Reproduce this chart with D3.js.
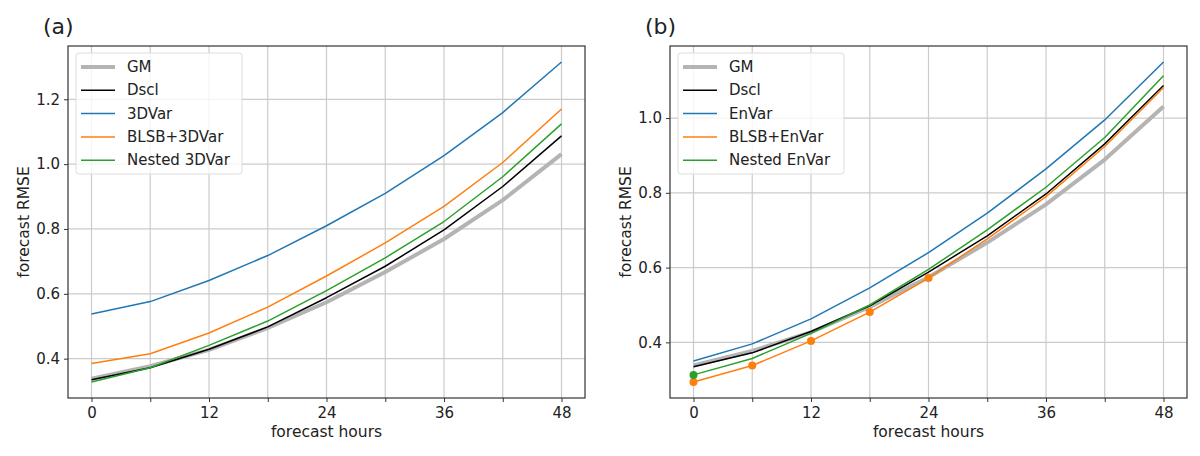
<!DOCTYPE html>
<html>
<head>
<meta charset="utf-8">
<script src="https://cdn.jsdelivr.net/npm/d3@7"></script>
<style>
  body { margin: 0; background: #fff; }
  text { font-family: 'DejaVu Sans', sans-serif; fill: #222; }
</style>
</head>
<body>
<svg id="chart" width="1200" height="456"></svg>
<script>
'use strict';

var hours = [0, 6, 12, 18, 24, 30, 36, 42, 48];
var xTickLabels = ['0', '', '12', '', '24', '', '36', '', '48'];

var gm = [0.338, 0.377, 0.427, 0.495, 0.574, 0.667, 0.769, 0.889, 1.031];
var dscl = [0.335, 0.372, 0.429, 0.498, 0.588, 0.685, 0.797, 0.931, 1.087];

// panel (a)
var var3d = [0.538, 0.576, 0.641, 0.718, 0.810, 0.910, 1.026, 1.159, 1.315];
var blsb3d = [0.385, 0.415, 0.479, 0.559, 0.655, 0.757, 0.870, 1.005, 1.170];
var nested3d = [0.328, 0.372, 0.441, 0.516, 0.610, 0.711, 0.823, 0.961, 1.124];

// panel (b)
var envar = [0.350, 0.396, 0.463, 0.546, 0.640, 0.746, 0.864, 0.995, 1.150];
var blsbEn = [0.294, 0.338, 0.404, 0.481, 0.572, 0.677, 0.790, 0.924, 1.082];
var nestedEn = [0.313, 0.357, 0.424, 0.500, 0.595, 0.701, 0.815, 0.948, 1.113];

// indexes of the dots drawn in (b)
var blsbEnDots = [0, 1, 2, 3, 4];
var nestedEnDots = [0];

var aTicks = [0.4, 0.6, 0.8, 1.0, 1.2];
var bTicks = [0.4, 0.6, 0.8, 1.0];

var svg = d3.select('#chart');

function drawPanel(opt) {
  var w = 517, h = 352;
  var g = svg.append('g').attr('transform', 'translate(' + opt.left + ',' + opt.top + ')');

  var all = [];
  opt.series.forEach(function(s) { all = all.concat(s.values); });
  var lo = d3.min(all), hi = d3.max(all), pad = (hi - lo) * 0.05;

  var x = d3.scaleLinear().domain([-2.4, 50.4]).range([0, w]);
  var y = d3.scaleLinear().domain([lo - pad, hi + pad]).range([h, 0]);

  // grid
  g.append('g').selectAll('line').data(hours).enter().append('line')
    .attr('x1', function(d) { return x(d); }).attr('x2', function(d) { return x(d); })
    .attr('y1', 0).attr('y2', h)
    .attr('stroke', '#cbcbcb').attr('stroke-width', 1.2);
  g.append('g').selectAll('line').data(opt.yTicks).enter().append('line')
    .attr('y1', function(d) { return y(d); }).attr('y2', function(d) { return y(d); })
    .attr('x1', 0).attr('x2', w)
    .attr('stroke', '#cbcbcb').attr('stroke-width', 1.2);

  var line = d3.line()
    .x(function(d, i) { return x(hours[i]); })
    .y(function(d) { return y(d); });

  opt.series.forEach(function(s) {
    g.append('path').datum(s.values)
      .attr('d', line)
      .attr('fill', 'none')
      .attr('stroke', s.color)
      .attr('stroke-width', s.width)
      .attr('stroke-linejoin', 'round');
    if (s.dots) {
      g.append('g').selectAll('circle').data(s.dots).enter().append('circle')
        .attr('cx', function(i) { return x(hours[i]); })
        .attr('cy', function(i) { return y(s.values[i]); })
        .attr('r', 4)
        .attr('fill', s.color);
    }
  });

  // axes
  var xAxis = d3.axisBottom(x).tickValues(hours)
    .tickFormat(function(d, i) { return xTickLabels[i]; })
    .tickSize(4).tickPadding(5);
  var gx = g.append('g').attr('transform', 'translate(0,' + h + ')').call(xAxis);
  var yAxis = d3.axisLeft(y).tickValues(opt.yTicks)
    .tickFormat(d3.format('.1f')).tickSize(4).tickPadding(4);
  var gy = g.append('g').call(yAxis);
  [gx, gy].forEach(function(a) {
    a.select('.domain').remove();
    a.selectAll('.tick line').attr('stroke', '#333');
    a.selectAll('.tick text').style('font-size', '15px').style('font-family', 'DejaVu Sans').attr('fill', '#222');
  });

  g.append('rect').attr('width', w).attr('height', h)
    .attr('fill', 'none').attr('stroke', '#333').attr('stroke-width', 1.2);

  g.append('text').attr('x', w / 2).attr('y', h + 39)
    .attr('text-anchor', 'middle').style('font-size', '15.5px').text('forecast hours');
  g.append('text').attr('transform', 'translate(' + (-39) + ',' + (h / 2) + ') rotate(-90)')
    .attr('text-anchor', 'middle').style('font-size', '15.5px').text('forecast RMSE');

  g.append('text').attr('x', -25).attr('y', -12)
    .style('font-size', '22px').text(opt.label);

  // legend
  var lg = g.append('g').attr('transform', 'translate(8,7)');
  lg.append('rect').attr('width', 166).attr('height', 121).attr('rx', 3)
    .attr('fill', '#fff').attr('fill-opacity', 0.8)
    .attr('stroke', '#ddd').attr('stroke-width', 1);
  opt.series.forEach(function(s, i) {
    var yy = 14 + i * 23.3;
    lg.append('line').attr('x1', 5).attr('x2', 39).attr('y1', yy).attr('y2', yy)
      .attr('stroke', s.color).attr('stroke-width', s.width);
    lg.append('text').attr('x', 51).attr('y', yy + 5)
      .style('font-size', '15px').text(s.name);
  });
}

drawPanel({
  left: 68, top: 46, label: '(a)', yTicks: aTicks,
  series: [
    { name: 'GM', values: gm, color: '#b4b4b4', width: 4 },
    { name: 'Dscl', values: dscl, color: '#000', width: 1.5 },
    { name: '3DVar', values: var3d, color: '#1f77b4', width: 1.5 },
    { name: 'BLSB+3DVar', values: blsb3d, color: '#ff7f0e', width: 1.5 },
    { name: 'Nested 3DVar', values: nested3d, color: '#2ca02c', width: 1.5 }
  ]
});

drawPanel({
  left: 670, top: 46, label: '(b)', yTicks: bTicks,
  series: [
    { name: 'GM', values: gm, color: '#b4b4b4', width: 4 },
    { name: 'Dscl', values: dscl, color: '#000', width: 1.5 },
    { name: 'EnVar', values: envar, color: '#1f77b4', width: 1.5 },
    { name: 'BLSB+EnVar', values: blsbEn, color: '#ff7f0e', width: 1.5, dots: blsbEnDots },
    { name: 'Nested EnVar', values: nestedEn, color: '#2ca02c', width: 1.5, dots: nestedEnDots }
  ]
});
</script>
</body>
</html>
